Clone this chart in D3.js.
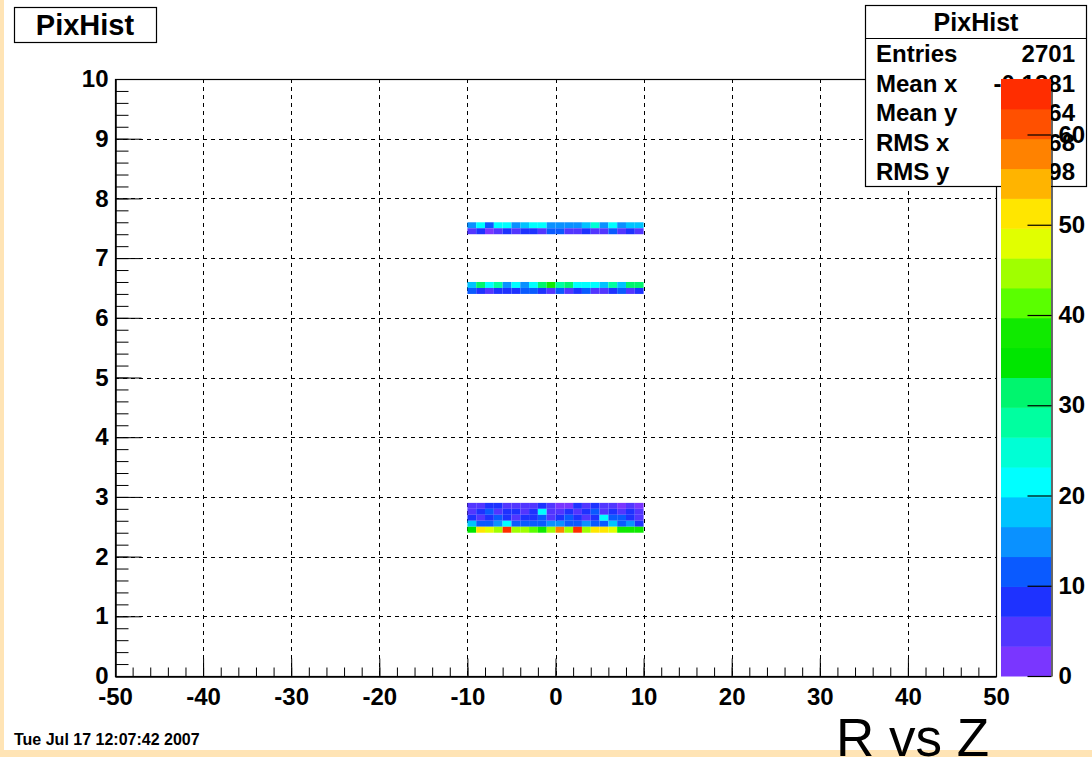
<!DOCTYPE html>
<html lang="en">
<head>
<meta charset="utf-8">
<title>PixHist - R vs Z</title>
<script src="https://cdn.jsdelivr.net/npm/d3@7"></script>
<style>
  body { margin: 0; background: #fff; }
  svg text { font-family: "Liberation Sans", Arial, Helvetica, sans-serif; font-weight: bold; }
</style>
</head>
<body>
<div id="chart"></div>
<script>

// Z bins (lower edge, width 1)
var zBins = [-10, -9, -8, -7, -6, -5, -4, -3, -2, -1, 0, 1, 2, 3, 4, 5, 6, 7, 8, 9];

// R rows (lower edge, width 0.1) and counts per z bin
var rRows = [7.5, 7.4, 6.5, 6.4, 2.8, 2.7, 2.6, 2.5, 2.4];
var counts_7_5 = [15, 22, 12, 22, 22, 15, 18, 22, 22, 15, 15, 15, 15, 18, 25, 15, 22, 15, 18, 18];
var counts_7_4 = [5, 8, 2, 5, 8, 5, 8, 8, 5, 12, 12, 5, 5, 8, 5, 5, 12, 5, 8, 5];
var counts_6_5 = [18, 32, 22, 28, 15, 22, 15, 22, 32, 38, 28, 32, 22, 22, 22, 18, 28, 18, 32, 32];
var counts_6_4 = [12, 8, 5, 8, 8, 8, 12, 12, 8, 5, 12, 5, 8, 12, 5, 5, 8, 12, 5, 8];
var counts_2_8 = [5, 5, 8, 8, 5, 5, 5, 5, 8, 5, 2, 2, 8, 5, 8, 5, 5, 2, 5, 2];
var counts_2_7 = [5, 8, 12, 5, 8, 8, 5, 8, 22, 5, 5, 8, 5, 8, 12, 5, 8, 5, 8, 5];
var counts_2_6 = [8, 5, 8, 12, 8, 5, 8, 8, 12, 5, 8, 12, 8, 5, 8, 22, 12, 12, 8, 5];
var counts_2_5 = [18, 12, 12, 15, 22, 12, 12, 12, 12, 15, 15, 12, 12, 15, 12, 12, 18, 12, 15, 8];
var counts_2_4 = [35, 52, 48, 45, 63, 45, 45, 42, 38, 45, 58, 45, 63, 45, 52, 52, 48, 38, 38, 38];
var rowCounts = [counts_7_5, counts_7_4, counts_6_5, counts_6_4, counts_2_8, counts_2_7, counts_2_6, counts_2_5, counts_2_4];

// 20 colour levels, violet -> red
var palette = ["#7a36ff", "#5236ff", "#1e32ff", "#0a5aff", "#0a91ff", "#00c3ff", "#00ffff", "#00ffd5", "#00ffa0", "#00f56e",
               "#00e600", "#10ea00", "#5aff00", "#a0ff00", "#e1ff00", "#ffe600", "#ffb400", "#ff8200", "#ff5000", "#ff2d00"];

var xTicks = [-50, -40, -30, -20, -10, 0, 10, 20, 30, 40, 50];
var yTicks = [0, 1, 2, 3, 4, 5, 6, 7, 8, 9, 10];
var zTicks = [0, 10, 20, 30, 40, 50, 60];

var statNames = ["Entries", "Mean x", "Mean y", "RMS x", "RMS y"];
var statValues = ["2701", "-0.1281", "4.364", "5.768", "2.298"];

var W = 1092, H = 757;
var frame = {left: 115, right: 996, top: 79, bottom: 676};

var svg = d3.select("#chart").append("svg")
    .attr("width", W)
    .attr("height", H);

// canvas border strips
svg.append("rect").attr("x", 0).attr("y", 0).attr("width", 4).attr("height", H).attr("fill", "#ffe4b5");
svg.append("rect").attr("x", 0).attr("y", 750).attr("width", W).attr("height", H - 750).attr("fill", "#ffe4b5");

var x = d3.scaleLinear().domain([-50, 50]).range([frame.left, frame.right]);
var y = d3.scaleLinear().domain([0, 10]).range([frame.bottom, frame.top]);
var plain = function(d) { return String(d); }; // hyphen minus, like ROOT

var allCounts = [].concat.apply([], rowCounts);
var zmax = d3.max(allCounts) * 1.05;
var color = d3.scaleQuantize().domain([0, zmax]).range(palette);

// grid
var grid = svg.append("g").attr("stroke", "#000").attr("stroke-width", 1).attr("stroke-dasharray", "4,4");
grid.selectAll(".gx").data(xTicks.slice(1, -1)).enter().append("line")
    .attr("x1", function(d) { return Math.round(x(d)) + 0.5; })
    .attr("x2", function(d) { return Math.round(x(d)) + 0.5; })
    .attr("y1", frame.top).attr("y2", frame.bottom);
grid.selectAll(".gy").data(yTicks.slice(1, -1)).enter().append("line")
    .attr("y1", function(d) { return Math.round(y(d)) + 0.5; })
    .attr("y2", function(d) { return Math.round(y(d)) + 0.5; })
    .attr("x1", frame.left).attr("x2", frame.right);

// cells
var cells = [];
rRows.forEach(function(r, i) {
  zBins.forEach(function(z, j) {
    if (rowCounts[i][j] > 0) cells.push({z: z, r: r, v: rowCounts[i][j]});
  });
});
svg.append("g").selectAll("rect").data(cells).enter().append("rect")
    .attr("x", function(d) { return x(d.z); })
    .attr("y", function(d) { return y(d.r + 0.1); })
    .attr("width", function(d) { return x(d.z + 1) - x(d.z); })
    .attr("height", function(d) { return y(d.r) - y(d.r + 0.1); })
    .attr("fill", function(d) { return color(d.v); });

// frame
svg.append("rect")
    .attr("x", frame.left + 0.5).attr("y", frame.top + 0.5)
    .attr("width", frame.right - frame.left).attr("height", frame.bottom - frame.top)
    .attr("fill", "none").attr("stroke", "#000").attr("stroke-width", 1.2);

// x axis
var xg = svg.append("g").attr("transform", "translate(0," + (frame.bottom + 0.5) + ")");
xg.call(d3.axisBottom(x).tickValues(x.ticks(50)).tickSizeInner(-9).tickSizeOuter(0).tickFormat(""));
xg.append("g").call(d3.axisBottom(x).tickValues(xTicks).tickFormat(plain).tickSizeInner(-18).tickSizeOuter(0).tickPadding(8));

// y axis
var yg = svg.append("g").attr("transform", "translate(" + (frame.left + 0.5) + ",0)");
yg.call(d3.axisLeft(y).tickValues(y.ticks(50)).tickSizeInner(-13).tickSizeOuter(0).tickFormat(""));
yg.append("g").call(d3.axisLeft(y).tickValues(yTicks).tickFormat(plain).tickSizeInner(-26).tickSizeOuter(0).tickPadding(7));

svg.selectAll(".tick text").attr("font-size", 24).attr("fill", "#000");
svg.selectAll(".tick line").attr("stroke", "#000");
xg.selectAll(".tick text").attr("dy", "0.85em");

// stats box
var stats = svg.append("g");
stats.append("rect").attr("x", 865.5).attr("y", 5.5).attr("width", 221).attr("height", 181)
    .attr("fill", "#fff").attr("stroke", "#000").attr("stroke-width", 1.2);
stats.append("line").attr("x1", 865.5).attr("x2", 1086.5).attr("y1", 38.5).attr("y2", 38.5)
    .attr("stroke", "#000").attr("stroke-width", 1.2);
stats.append("text").attr("x", 976).attr("y", 31).attr("text-anchor", "middle")
    .attr("font-size", 25).text("PixHist");
statNames.forEach(function(n, i) {
  var by = 62 + i * 29.6;
  stats.append("text").attr("x", 876).attr("y", by).attr("font-size", 24).text(n);
  stats.append("text").attr("x", 1075).attr("y", by).attr("text-anchor", "end").attr("font-size", 24).text(statValues[i]);
});

// colour bar
var zScale = d3.scaleLinear().domain([0, zmax]).range([frame.bottom, frame.top]);
var bar = {x: 1001, w: 50};
var levels = d3.range(palette.length);
svg.append("g").selectAll("rect").data(levels).enter().append("rect")
    .attr("x", bar.x)
    .attr("width", bar.w)
    .attr("y", function(k) { return zScale(color.invertExtent(palette[k])[1]); })
    .attr("height", function(k) {
      var e = color.invertExtent(palette[k]);
      return zScale(e[0]) - zScale(e[1]) + 0.5;
    })
    .attr("fill", function(k) { return palette[k]; });
var zg = svg.append("g").attr("transform", "translate(" + (bar.x + bar.w + 0.5) + ",0)");
zg.call(d3.axisRight(zScale).tickValues(zTicks).tickFormat(plain).tickSizeInner(-24).tickSizeOuter(0).tickPadding(7));
zg.select(".domain").attr("stroke", "#000").attr("stroke-width", 1.2);
zg.selectAll(".tick text").attr("font-size", 24).attr("fill", "#000");
zg.selectAll(".tick line").attr("stroke", "#000").attr("stroke-width", 1.2);

// title box
svg.append("rect").attr("x", 14.5).attr("y", 7.5).attr("width", 142).attr("height", 35)
    .attr("fill", "#fff").attr("stroke", "#000").attr("stroke-width", 1.2);
svg.append("text").attr("x", 85).attr("y", 35).attr("text-anchor", "middle")
    .attr("font-size", 29).text("PixHist");

// date stamp and caption
svg.append("text").attr("x", 14).attr("y", 745).attr("font-size", 16).text("Tue Jul 17 12:07:42 2007");
svg.append("text").attr("x", 836).attr("y", 756).attr("font-size", 53)
    .style("font-weight", "normal").text("R vs Z");

</script>
</body>
</html>
